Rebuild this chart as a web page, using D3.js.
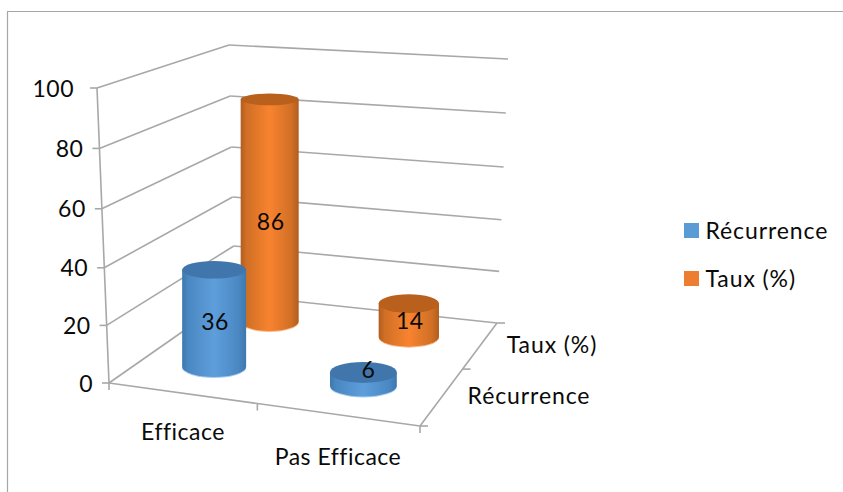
<!DOCTYPE html>
<html><head><meta charset="utf-8">
<script src="https://cdn.jsdelivr.net/npm/d3@7"></script>
<style>html,body{margin:0;padding:0;background:#fff}svg{display:block}text{font-family:Lato,"Open Sans",sans-serif;fill:#0a0a0a;letter-spacing:0.5px;font-variant-ligatures:none}text.wide{letter-spacing:0.9px}</style>
</head><body><svg id="c" width="843" height="492"></svg>
<script>
const categories = ["Efficace", "Pas Efficace"];
const seriesNames = ["Récurrence", "Taux (%)"];
const recurrence = [36, 6];
const taux = [86, 14];
const yTicks = [0, 20, 40, 60, 80, 100];
const seriesColors = ["#5b9bd5", "#ed7d31"];

const W = 843, H = 492, FS = 23;
const svg = d3.select("#c");
const defs = svg.append("defs");
const blur = defs.append("filter").attr("id","soft").attr("x","-5%").attr("y","-5%").attr("width","110%").attr("height","110%");
blur.append("feGaussianBlur").attr("stdDeviation",0.5);

[["#3f78ae","#5e9edb","#4a88c2","b"],["#b05e20","#f8832f","#d06f26","o"]].forEach(([e,m,e2,id])=>{
  const g = defs.append("linearGradient").attr("id","grad"+id);
  [[0,e],[0.1,e2],[0.5,m],[0.88,e2],[1,e]].forEach(([o,c])=>g.append("stop").attr("offset",o).attr("stop-color",c));
});

// frame
svg.append("path").attr("d",`M7.5,${H}V11.5H${W}`).attr("fill","none").attr("stroke","#a6a6a6").attr("stroke-width",1.2);

// height scales along the chart's box edges
const col = (b, m, t) => d3.scaleLinear().domain([0,50,100]).range([b,m,t]);
const FL = col([109,383],[103,239],[97,88]);
const BL = col([235,295],[232,172.5],[229,45]);
const BR = col([497,323],[502.5,194],[508,59]);
const FR = col([420,426],[426,271],[432,116]);

function project(u, v, value){
  const [x0,y0]=FL(value),[x1,y1]=FR(value),[x2,y2]=BR(value),[x3,y3]=BL(value);
  const dx1=x1-x2,dx2=x3-x2,sx=x0-x1+x2-x3,dy1=y1-y2,dy2=y3-y2,sy=y0-y1+y2-y3;
  const den=dx1*dy2-dx2*dy1;
  const g=(sx*dy2-dx2*sy)/den,h=(dx1*sy-sx*dy1)/den;
  const a=x1-x0+g*x1,b=x3-x0+h*x3,d=y1-y0+g*y1,e=y3-y0+h*y3;
  const w=g*u+h*v+1;
  return {x:(a*u+b*v+x0)/w, y:(d*u+e*v+y0)/w, w};
}
const uScale = d3.scaleBand().domain(categories).range([0,1]);
const vScale = d3.scaleBand().domain(seriesNames).range([0,1]);
const ryScale = d3.scaleLinear().domain([90,390]).range([5.8,10.8]);

const art = svg.append("g").attr("filter","url(#soft)");
const lineColor="#a8a8a8";
const seg=(p,q,sw=1.6)=>art.append("line").attr("x1",p[0]).attr("y1",p[1]).attr("x2",q[0]).attr("y2",q[1]).attr("stroke",lineColor).attr("stroke-width",sw);

yTicks.forEach(t=>{
  const a=FL(t),b=BL(t),c=BR(t);
  seg(a,b); seg(b,c);
  seg([a[0]-7,a[1]],a);
  svg.append("text").attr("x",a[0]-(t===100?23:16)).attr("y",a[1]+0.5).attr("dy","0.35em").attr("text-anchor","end").attr("font-size",FS).text(t);
});
seg(FL(0),FL(100));
const f0=FL(0),f1=FR(0),b1=BR(0);
seg(f0,f1); seg(f1,b1);
// floor ticks
[0,0.5,1].forEach(u=>{const p=project(u,0,0); seg([p.x,p.y],[p.x,p.y+7]);});
[0,0.5,1].forEach(v=>{const p=project(1,v,0); seg([p.x,p.y],[p.x+8,p.y]);});

// bars, back to front
const bars=[];
[[1,taux],[0,recurrence]].forEach(([si,vals])=>{
  vals.forEach((val,ci)=>bars.push({si,ci,val}));
});
const bw=uScale.bandwidth(), dw=vScale.bandwidth();
const topDrop=4;
bars.forEach(d=>{
  const u=uScale(categories[d.ci])+bw/2, v=vScale(seriesNames[d.si])+dw/2;
  const base=project(u,v,0), top=project(u,v,d.val);
  const cx=(base.x+top.x)/2, topY=top.y+topDrop;
  const rx=33*bw*2/base.w, ryB=ryScale(base.y), ryT=ryScale(topY);
  const g=art.append("g");
  const id=d.si?"o":"b";
  const rim=d.si?"#fbb98a":"#a9cdef";
  g.append("ellipse").attr("cx",cx).attr("cy",base.y+1).attr("rx",rx).attr("ry",ryB).attr("fill",rim);
  g.append("path").attr("d",`M${cx-rx},${topY}L${cx-rx},${base.y}A${rx},${ryB} 0 0 0 ${cx+rx},${base.y}L${cx+rx},${topY}Z`).attr("fill",`url(#grad${id})`);
  g.append("ellipse").attr("cx",cx).attr("cy",topY).attr("rx",rx).attr("ry",ryT).attr("fill",d.si?"#b9611f":"#3f76ab");
  d.lab={x:cx+(d.val<10?4:0),y:project(u,v,Math.max(d.val*0.45,5.6)).y};
});
bars.forEach(d=>{
  svg.append("text").attr("x",d.lab.x+1).attr("y",d.lab.y+0.5).attr("dy","0.35em").attr("text-anchor","middle").attr("font-size",FS).text(d.val);
});

// category labels
const catPos=[[183,432],[338,457]], serPos=[[552,345],[529,396]];
categories.forEach((c,i)=>svg.append("text").attr("x",catPos[i][0]).attr("y",catPos[i][1]).attr("dy","0.35em").attr("text-anchor","middle").attr("font-size",FS).text(c));
[seriesNames[1],seriesNames[0]].forEach((c,i)=>svg.append("text").attr("class","wide").attr("x",serPos[i][0]).attr("y",serPos[i][1]).attr("dy","0.35em").attr("text-anchor","middle").attr("font-size",FS).text(c));

// legend
seriesNames.forEach((n,i)=>{
  const y=223+i*48;
  svg.append("rect").attr("x",684).attr("y",y).attr("width",15).attr("height",15).attr("fill",seriesColors[i]);
  svg.append("text").attr("class","wide").attr("x",705.5).attr("y",y+7.5).attr("dy","0.35em").attr("font-size",FS).text(n);
});
</script></body></html>
